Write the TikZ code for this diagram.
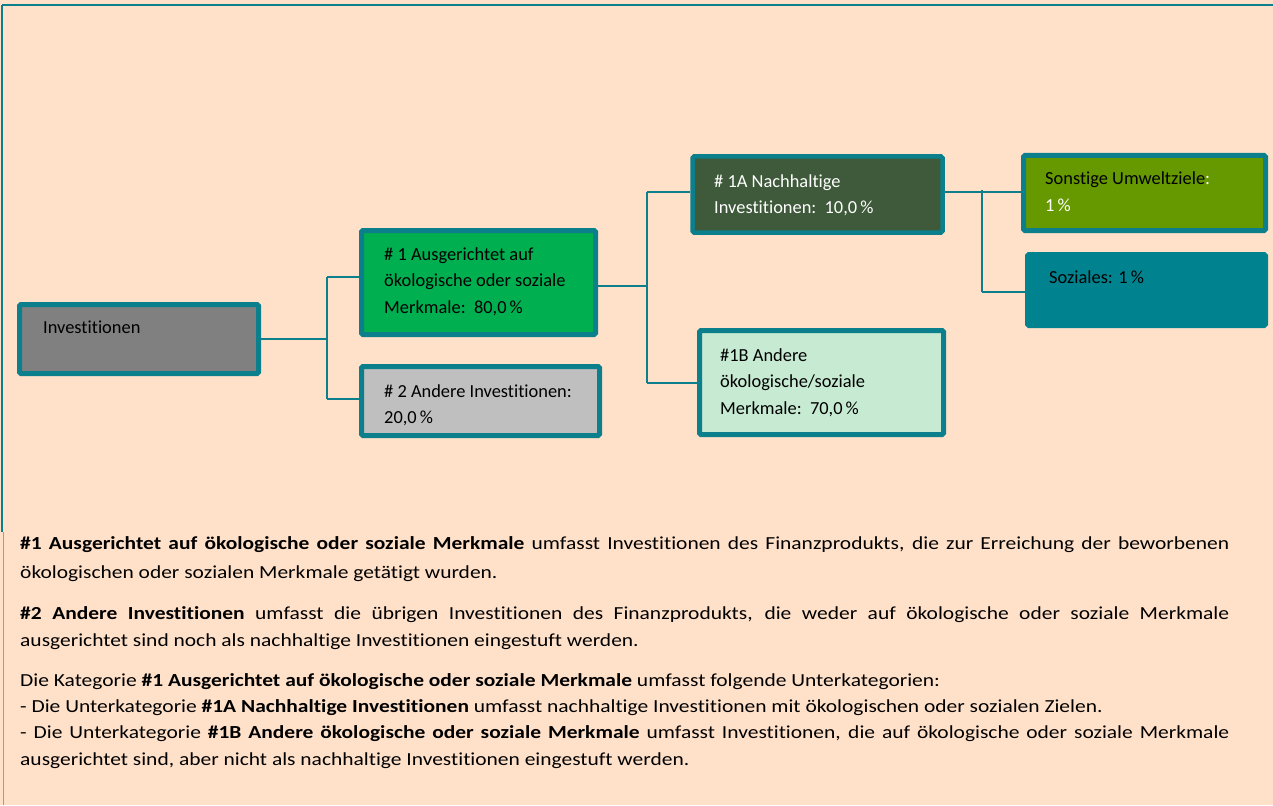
\documentclass[tikz,border=0pt]{standalone}
\usepackage{fontspec}
\setmainfont{Carlito}[Ligatures=NoCommon]
\newfontfamily\widefont{Carlito}[FakeStretch=1.167, Ligatures=NoCommon]
\definecolor{bg}{HTML}{FFE1CA}
\definecolor{tealb}{HTML}{0B7F8B}
\definecolor{invfill}{HTML}{808080}
\definecolor{g1fill}{HTML}{00B050}
\definecolor{g2fill}{HTML}{BFBFBF}
\definecolor{aafill}{HTML}{3E5A3A}
\definecolor{bbfill}{HTML}{C6EAD2}
\definecolor{sonfill}{HTML}{669900}
\definecolor{sozfill}{HTML}{00838F}
\newcommand{\mlines}[1]{\begin{tabular}[t]{@{}l@{}}#1\end{tabular}}
\newcommand{\jline}[1]{\makebox[1209pt][s]{#1}}
\begin{document}
\begin{tikzpicture}[x=1pt,y=-1pt,
  box/.style={draw=tealb, line width=5pt, rounded corners=1.5pt, inner sep=0pt},
  txt/.style={inner sep=0pt, anchor=base west, font=\fontsize{18.4}{26.5}\selectfont},
  para/.style={inner sep=0pt, anchor=base west},
  conn/.style={draw=tealb, line width=2pt}]
\useasboundingbox (0,0) rectangle (1273,805);
\fill[bg] (0,0) rectangle (1273,805);
% frame
\draw[tealb, line width=2.5pt] (2,5) -- (1273,5);
\draw[tealb, line width=2.5pt] (2,5) -- (2,532);
\draw[tealb!60, line width=1pt] (3,532) -- (3,805);
% boxes
\node[box, fill=invfill, minimum width=239pt, minimum height=69pt] (inv) at (139,339) {};
\node[box, fill=g1fill, minimum width=234pt, minimum height=104pt] (g1) at (478.5,282.5) {};
\node[box, fill=g2fill, minimum width=238pt, minimum height=69pt] (g2) at (480.5,401) {};
\node[box, fill=aafill, line width=4.5pt, minimum width=250pt, minimum height=76pt] (aa) at (817.5,194.5) {};
\node[box, fill=bbfill, minimum width=244pt, minimum height=104pt] (bb) at (821.5,382.5) {};
\node[box, fill=sonfill, minimum width=242pt, minimum height=75pt] (son) at (1144.5,193) {};
\node[box, draw=sozfill, fill=sozfill, minimum width=238pt, minimum height=71pt] (soz) at (1146.5,290) {};
% connectors
\coordinate (b1t) at (327,277);
\coordinate (b1b) at (327,399);
\draw[conn] (inv.east) -- (inv.east -| b1t);
\draw[conn] (b1t) -- (b1b);
\draw[conn] (b1t) -- (b1t -| g1.west);
\draw[conn] (b1b) -- (b1b -| g2.west);
\coordinate (b2t) at (647,192);
\coordinate (b2b) at (647,383);
\draw[conn] (g1.east |- 0,286) -- (647,286);
\draw[conn] (b2t) -- (b2b);
\draw[conn] (b2t) -- (b2t -| aa.west);
\draw[conn] (b2b) -- (b2b -| bb.west);
\coordinate (b3t) at (982,192);
\coordinate (b3b) at (982,292);
\draw[conn] (aa.east |- b3t) -- (b3t);
\draw[conn] (982,190) -- (b3b);
\draw[conn] (b3t) -- (b3t -| son.west);
\draw[conn] (b3b) -- (b3b -| soz.west);
% box texts
\node[txt] (tinv) at (43,333) {Investitionen};
\node[txt] (tg1) at (384,260) {\mlines{\# 1 Ausgerichtet auf\\ökologische oder soziale\\Merkmale:\ \ 80,0\,\%}};
\node[txt] (tg2) at (384,397) {\mlines{\# 2 Andere Investitionen:\\20,0\,\%}};
\node[txt, text=white] (taa) at (714,187) {\mlines{\# 1A Nachhaltige\\Investitionen:\ \ 10,0\,\%}};
\node[txt] (tbb) at (720,361) {\mlines{\#1B Andere\\ökologische/soziale\\Merkmale:\ \ 70,0\,\%}};
\node[txt] (tson) at (1045,185) {\mlines{Sonstige Umweltziele\textcolor{white}{:}\\\textcolor{white}{1\,\%}}};
\node[txt] (tsoz) at (1049,283) {Soziales: 1\,\%};
% explanatory text
\node[para, font=\widefont\fontsize{18.4}{29}\selectfont] (p1) at (20,549) {\mlines{%
\jline{\textbf{\#1 Ausgerichtet auf ökologische oder soziale Merkmale} umfasst Investitionen des Finanzprodukts, die zur Erreichung der beworbenen}\\
ökologischen oder sozialen Merkmale getätigt wurden.}};
\node[para, font=\widefont\fontsize{18.4}{27}\selectfont] (p2) at (20,619) {\mlines{%
\jline{\textbf{\#2 Andere Investitionen} umfasst die übrigen Investitionen des Finanzprodukts, die weder auf ökologische oder soziale Merkmale}\\
ausgerichtet sind noch als nachhaltige Investitionen eingestuft werden.}};
\node[para, font=\widefont\fontsize{18.4}{26.4}\selectfont] (p3) at (20,686) {\mlines{%
Die Kategorie \textbf{\#1 Ausgerichtet auf ökologische oder soziale Merkmale} umfasst folgende Unterkategorien:\\
- Die Unterkategorie \textbf{\#1A Nachhaltige Investitionen} umfasst nachhaltige Investitionen mit ökologischen oder sozialen Zielen.\\
\jline{- Die Unterkategorie \textbf{\#1B Andere ökologische oder soziale Merkmale} umfasst Investitionen, die auf ökologische oder soziale Merkmale}\\
ausgerichtet sind, aber nicht als nachhaltige Investitionen eingestuft werden.}};
\end{tikzpicture}
\end{document}
